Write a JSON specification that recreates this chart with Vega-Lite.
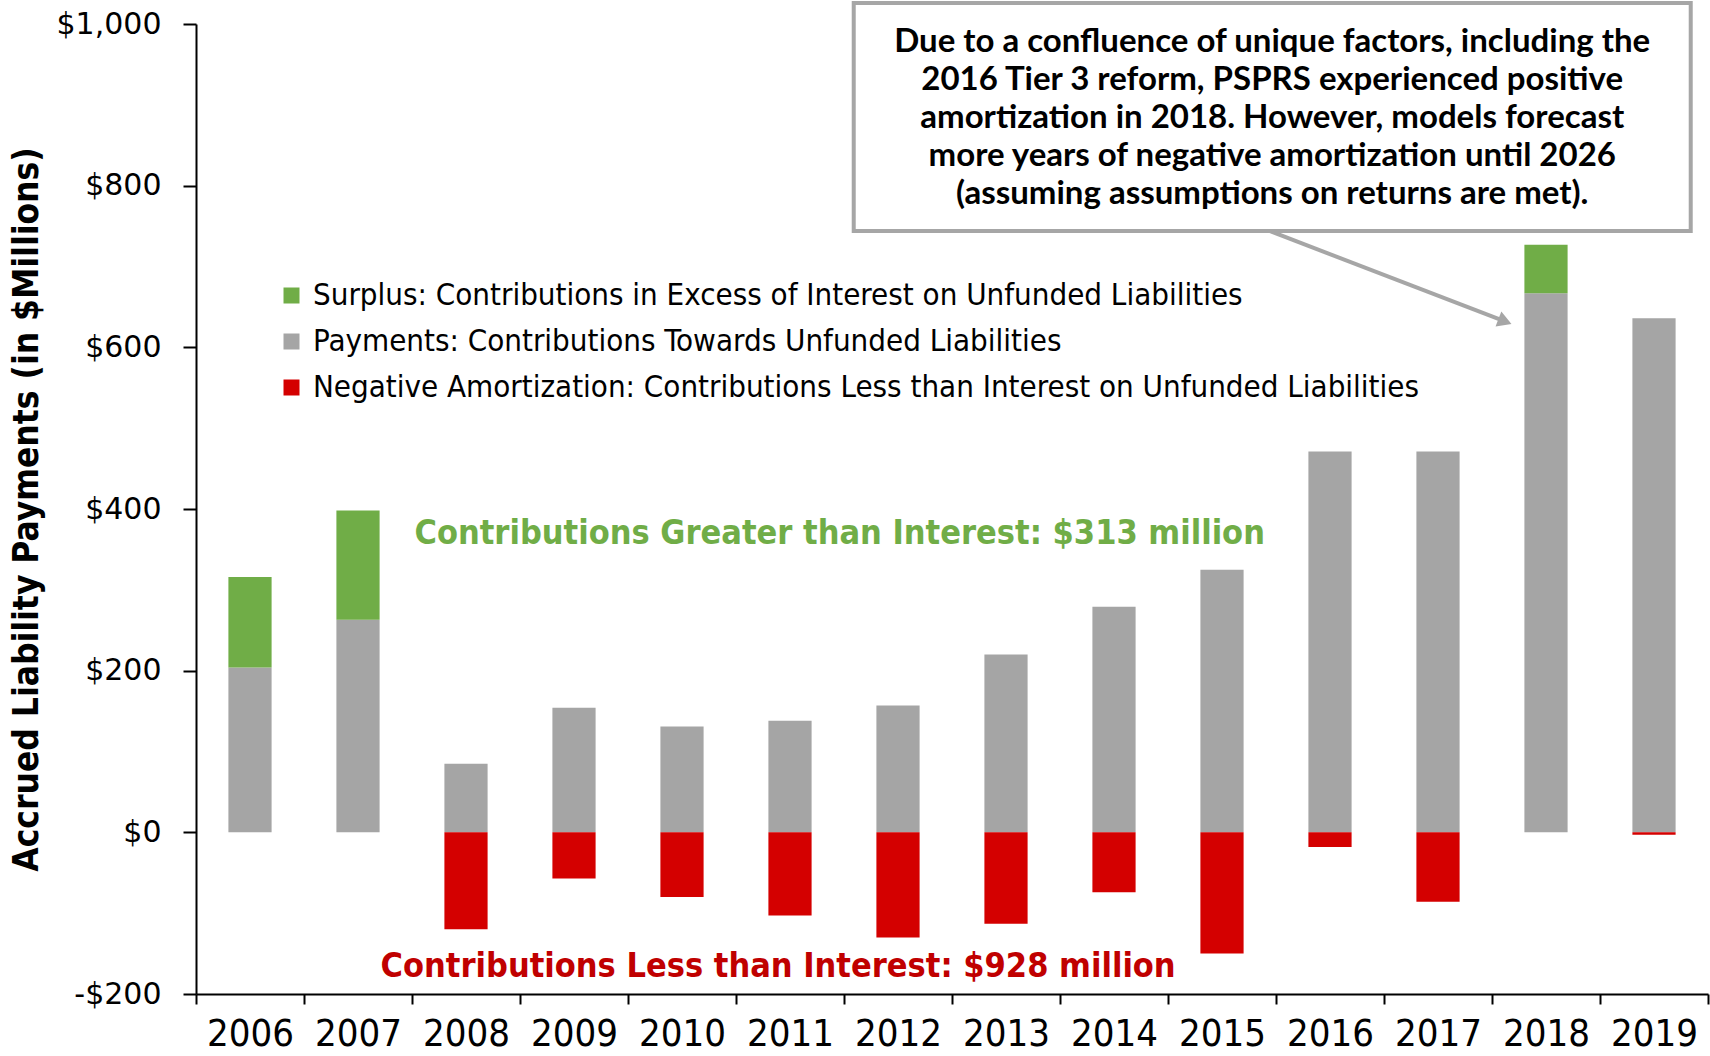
{
  "$schema": "https://vega.github.io/schema/vega-lite/v6.json",
  "width": 1512,
  "height": 970,
  "autosize": {"type": "none"},
  "padding": {"left": 196, "top": 24, "right": 2, "bottom": 62},
  "background": "white",
  "config": {"view": {"stroke": null}},
  "datasets": {
    "bars": [
      {"year": "2006", "series": "Payments: Contributions Towards Unfunded Liabilities", "ord": 1, "value": 204},
      {"year": "2006", "series": "Surplus: Contributions in Excess of Interest on Unfunded Liabilities", "ord": 2, "value": 112},
      {"year": "2007", "series": "Payments: Contributions Towards Unfunded Liabilities", "ord": 1, "value": 263},
      {"year": "2007", "series": "Surplus: Contributions in Excess of Interest on Unfunded Liabilities", "ord": 2, "value": 135},
      {"year": "2008", "series": "Payments: Contributions Towards Unfunded Liabilities", "ord": 1, "value": 85},
      {"year": "2008", "series": "Negative Amortization: Contributions Less than Interest on Unfunded Liabilities", "ord": 3, "value": -120},
      {"year": "2009", "series": "Payments: Contributions Towards Unfunded Liabilities", "ord": 1, "value": 154},
      {"year": "2009", "series": "Negative Amortization: Contributions Less than Interest on Unfunded Liabilities", "ord": 3, "value": -57},
      {"year": "2010", "series": "Payments: Contributions Towards Unfunded Liabilities", "ord": 1, "value": 131},
      {"year": "2010", "series": "Negative Amortization: Contributions Less than Interest on Unfunded Liabilities", "ord": 3, "value": -80},
      {"year": "2011", "series": "Payments: Contributions Towards Unfunded Liabilities", "ord": 1, "value": 138},
      {"year": "2011", "series": "Negative Amortization: Contributions Less than Interest on Unfunded Liabilities", "ord": 3, "value": -103},
      {"year": "2012", "series": "Payments: Contributions Towards Unfunded Liabilities", "ord": 1, "value": 157},
      {"year": "2012", "series": "Negative Amortization: Contributions Less than Interest on Unfunded Liabilities", "ord": 3, "value": -130},
      {"year": "2013", "series": "Payments: Contributions Towards Unfunded Liabilities", "ord": 1, "value": 220},
      {"year": "2013", "series": "Negative Amortization: Contributions Less than Interest on Unfunded Liabilities", "ord": 3, "value": -113},
      {"year": "2014", "series": "Payments: Contributions Towards Unfunded Liabilities", "ord": 1, "value": 279},
      {"year": "2014", "series": "Negative Amortization: Contributions Less than Interest on Unfunded Liabilities", "ord": 3, "value": -74},
      {"year": "2015", "series": "Payments: Contributions Towards Unfunded Liabilities", "ord": 1, "value": 325},
      {"year": "2015", "series": "Negative Amortization: Contributions Less than Interest on Unfunded Liabilities", "ord": 3, "value": -150},
      {"year": "2016", "series": "Payments: Contributions Towards Unfunded Liabilities", "ord": 1, "value": 471},
      {"year": "2016", "series": "Negative Amortization: Contributions Less than Interest on Unfunded Liabilities", "ord": 3, "value": -18},
      {"year": "2017", "series": "Payments: Contributions Towards Unfunded Liabilities", "ord": 1, "value": 471},
      {"year": "2017", "series": "Negative Amortization: Contributions Less than Interest on Unfunded Liabilities", "ord": 3, "value": -86},
      {"year": "2018", "series": "Payments: Contributions Towards Unfunded Liabilities", "ord": 1, "value": 667},
      {"year": "2018", "series": "Surplus: Contributions in Excess of Interest on Unfunded Liabilities", "ord": 2, "value": 60},
      {"year": "2019", "series": "Payments: Contributions Towards Unfunded Liabilities", "ord": 1, "value": 636},
      {"year": "2019", "series": "Negative Amortization: Contributions Less than Interest on Unfunded Liabilities", "ord": 3, "value": -3}
    ],
    "notes": [
      {"pos": 5.96, "val": 369, "label": "Contributions Greater than Interest: $313 million", "kind": "green"},
      {"pos": 5.39, "val": -166, "label": "Contributions Less than Interest: $928 million", "kind": "red"}
    ],
    "box": [
      {"x1": 6.09, "x2": 13.84, "y1": 744, "y2": 1026, "cx": 9.965, "cy": 997,
       "label": "Due to a confluence of unique factors, including the\n2016 Tier 3 reform, PSPRS experienced positive\namortization in 2018. However, models forecast\nmore years of negative amortization until 2026\n(assuming assumptions on returns are met)."}
    ],
    "arrow": [
      {"ax": 9.94, "ay": 744, "bx": 12.12, "by": 632}
    ]
  },
  "layer": [
    {
      "data": {"name": "bars"},
      "mark": {"type": "bar", "width": {"band": 0.4}},
      "encoding": {
        "x": {
          "field": "year", "type": "ordinal",
          "scale": {"paddingInner": 0, "paddingOuter": 0},
          "axis": {
            "title": null, "labelAngle": 0, "tickBand": "extent",
            "domainColor": "#000000", "domainWidth": 2, "tickColor": "#000000", "tickWidth": 2, "tickSize": 10,
            "labelFont": "Liberation Sans Narrow, DejaVu Sans Condensed, sans-serif", "labelFontSize": 38,
            "labelColor": "#000000", "labelPadding": 11
          }
        },
        "y": {
          "field": "value", "type": "quantitative", "aggregate": "sum", "stack": "zero",
          "scale": {"domain": [-200, 1000], "nice": false},
          "axis": {
            "title": "Accrued Liability Payments (in $Millions)",
            "titleFont": "Liberation Sans Narrow, DejaVu Sans Condensed, sans-serif",
            "titleFontSize": 35, "titleFontWeight": "bold", "titleColor": "#000000", "titlePadding": 12,
            "values": [-200, 0, 200, 400, 600, 800, 1000],
            "labelExpr": "datum.value < 0 ? '-$' + format(-datum.value, ',') : '$' + format(datum.value, ',')",
            "grid": false,
            "domainColor": "#000000", "domainWidth": 2, "tickColor": "#000000", "tickWidth": 2, "tickSize": 13,
            "labelFont": "DejaVu Sans", "labelFontSize": 30, "labelColor": "#000000", "labelPadding": 22
          }
        },
        "color": {
          "field": "series", "type": "nominal",
          "scale": {
            "domain": [
              "Surplus: Contributions in Excess of Interest on Unfunded Liabilities",
              "Payments: Contributions Towards Unfunded Liabilities",
              "Negative Amortization: Contributions Less than Interest on Unfunded Liabilities"
            ],
            "range": ["#70AD47", "#A5A5A5", "#D40000"]
          },
          "legend": {
            "orient": "none", "legendX": 80, "legendY": 256, "title": null,
            "symbolType": "square", "symbolSize": 256, "symbolStrokeWidth": 0,
            "labelFont": "Liberation Sans Narrow, DejaVu Sans Condensed, sans-serif",
            "labelFontSize": 31, "labelColor": "#000000", "labelLimit": 1400, "labelOffset": 6,
            "rowPadding": 14
          }
        },
        "order": {"field": "ord", "type": "quantitative", "aggregate": "min"}
      }
    },
    {
      "data": {"name": "notes"},
      "mark": {"type": "text", "font": "Liberation Sans Narrow, DejaVu Sans Condensed, sans-serif", "fontSize": 34, "fontWeight": "bold", "align": "center", "baseline": "middle"},
      "encoding": {
        "x": {"field": "pos", "type": "quantitative", "scale": {"domain": [0, 14], "nice": false, "zero": false}, "axis": null},
        "y": {"field": "val", "type": "quantitative", "scale": {"domain": [-200, 1000], "nice": false}},
        "text": {"field": "label"},
        "color": {"field": "kind", "type": "nominal", "scale": {"domain": ["green", "red"], "range": ["#70AD47", "#C00000"]}, "legend": null}
      }
    },
    {
      "data": {"name": "arrow"},
      "mark": {"type": "rule", "color": "#A6A6A6", "strokeWidth": 4},
      "encoding": {
        "x": {"field": "ax", "type": "quantitative", "scale": {"domain": [0, 14], "nice": false, "zero": false}, "axis": null},
        "y": {"field": "ay", "type": "quantitative", "scale": {"domain": [-200, 1000], "nice": false}},
        "x2": {"field": "bx"},
        "y2": {"field": "by"}
      }
    },
    {
      "data": {"name": "arrow"},
      "mark": {"type": "point", "shape": "triangle-up", "filled": true, "color": "#A6A6A6", "opacity": 1, "size": 260, "angle": 111},
      "encoding": {
        "x": {"field": "bx", "type": "quantitative", "scale": {"domain": [0, 14], "nice": false, "zero": false}, "axis": null},
        "y": {"field": "by", "type": "quantitative", "scale": {"domain": [-200, 1000], "nice": false}}
      }
    },
    {
      "data": {"name": "box"},
      "mark": {"type": "rect", "fill": "white", "stroke": "#A6A6A6", "strokeWidth": 4},
      "encoding": {
        "x": {"field": "x1", "type": "quantitative", "scale": {"domain": [0, 14], "nice": false, "zero": false}, "axis": null},
        "x2": {"field": "x2"},
        "y": {"field": "y1", "type": "quantitative", "scale": {"domain": [-200, 1000], "nice": false}},
        "y2": {"field": "y2"}
      }
    },
    {
      "data": {"name": "box"},
      "mark": {"type": "text", "font": "Lato", "fontWeight": "bold", "fontSize": 33, "lineHeight": 38, "lineBreak": "\n", "align": "center", "baseline": "top", "color": "#000000"},
      "encoding": {
        "x": {"field": "cx", "type": "quantitative", "scale": {"domain": [0, 14], "nice": false, "zero": false}, "axis": null},
        "y": {"field": "cy", "type": "quantitative", "scale": {"domain": [-200, 1000], "nice": false}},
        "text": {"field": "label"}
      }
    }
  ],
  "resolve": {"scale": {"x": "independent", "color": "independent"}, "axis": {"x": "independent"}}
}
